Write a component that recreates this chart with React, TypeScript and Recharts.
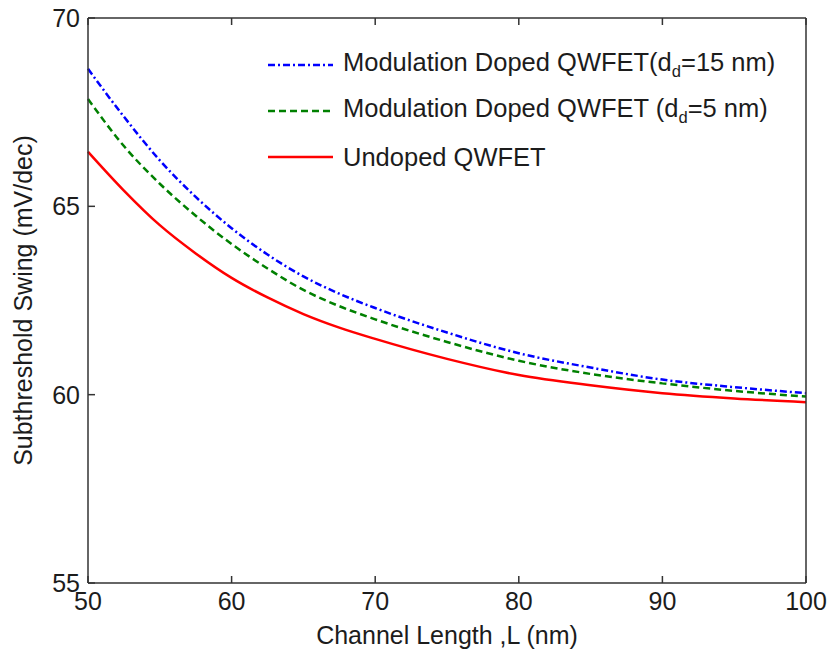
import { LineChart, Line, XAxis, YAxis } from "recharts";

// channel length L (nm) and subthreshold swing (mV/dec) for each device
const lengths = [50, 52.5, 55, 57.5, 60, 62.5, 65, 67.5, 70, 75, 80, 85, 90, 95, 100];
const doped15 = [68.65, 67.38, 66.22, 65.25, 64.42, 63.72, 63.14, 62.68, 62.3, 61.65, 61.1, 60.72, 60.4, 60.2, 60.04];
const doped5 = [67.85, 66.6, 65.6, 64.75, 64.0, 63.35, 62.78, 62.35, 62.0, 61.4, 60.9, 60.55, 60.3, 60.1, 59.95];
const undoped = [66.45, 65.42, 64.5, 63.75, 63.1, 62.58, 62.14, 61.78, 61.48, 60.95, 60.52, 60.25, 60.04, 59.9, 59.8];

const xTicks = [50, 60, 70, 80, 90, 100];
const yTicks = [55, 60, 65, 70];

const data = lengths.map((L, i) => ({
  L,
  doped15: doped15[i],
  doped5: doped5[i],
  undoped: undoped[i],
}));

const FONT = '"Liberation Sans", Arial, sans-serif';
const TEXT = "#1c1c1c";
const FRAME = "#333333";

const series = [
  { key: "doped15", color: "#0000ff", dash: "7 3 2 3", label: ["Modulation Doped QWFET(d", "d", "=15 nm)"] },
  { key: "doped5", color: "#008000", dash: "7 4", label: ["Modulation Doped QWFET (d", "d", "=5 nm)"] },
  { key: "undoped", color: "#ff0000", dash: undefined, label: ["Undoped QWFET", "", ""] },
];

function LegendBox() {
  return (
    <div
      style={{
        position: "absolute",
        left: 262,
        top: 42,
        fontFamily: FONT,
        fontSize: 25.5,
        color: TEXT,
      }}
    >
      {series.map((s) => (
        <div key={s.key} style={{ display: "flex", alignItems: "center", height: 46 }}>
          <svg width={75} height={10} style={{ marginRight: 6 }}>
            <line x1={6} x2={71} y1={5} y2={5} stroke={s.color} strokeWidth={2.5} strokeDasharray={s.dash} />
          </svg>
          <span style={{ whiteSpace: "nowrap" }}>
            {s.label[0]}
            {s.label[1] && <sub style={{ fontSize: "0.65em" }}>{s.label[1]}</sub>}
            {s.label[2]}
          </span>
        </div>
      ))}
    </div>
  );
}

export default function App() {
  const tickStyle = { fontFamily: FONT, fontSize: 25, fill: TEXT };
  return (
    <div style={{ position: "absolute", left: 0, top: 0, width: 831, height: 654, background: "#fff" }}>
      <LineChart width={831} height={654} data={data} margin={{ top: 0, right: 0, bottom: 0, left: 0 }}>
        <XAxis
          dataKey="L"
          type="number"
          domain={[50, 100]}
          ticks={xTicks}
          height={71}
          tickSize={-7}
          tickMargin={16}
          stroke={FRAME}
          strokeWidth={1.5}
          tick={tickStyle}
          label={{
            value: "Channel Length ,L (nm)",
            position: "insideBottom",
            offset: 10,
            style: { fontFamily: FONT, fontSize: 25, fill: TEXT },
          }}
        />
        <XAxis
          xAxisId="top"
          orientation="top"
          dataKey="L"
          type="number"
          domain={[50, 100]}
          ticks={xTicks}
          height={18}
          tickSize={-7}
          tickFormatter={() => ""}
          stroke={FRAME}
          strokeWidth={1.5}
        />
        <YAxis
          type="number"
          domain={[55, 70]}
          ticks={yTicks}
          width={88}
          tickSize={-7}
          tickMargin={15}
          stroke={FRAME}
          strokeWidth={1.5}
          tick={tickStyle}
          label={{
            value: "Subthreshold Swing (mV/dec)",
            angle: -90,
            position: "center",
            dx: -21,
            style: { fontFamily: FONT, fontSize: 25, fill: TEXT, textAnchor: "middle" },
          }}
        />
        <YAxis
          yAxisId="right"
          orientation="right"
          type="number"
          domain={[55, 70]}
          ticks={yTicks}
          width={25}
          tickSize={-7}
          tickFormatter={() => ""}
          stroke={FRAME}
          strokeWidth={1.5}
        />
        {series.map((s) => (
          <Line
            key={s.key}
            dataKey={s.key}
            type="monotone"
            stroke={s.color}
            strokeWidth={2.5}
            strokeDasharray={s.dash}
            dot={false}
            activeDot={false}
            isAnimationActive={false}
          />
        ))}
      </LineChart>
      <LegendBox />
    </div>
  );
}
